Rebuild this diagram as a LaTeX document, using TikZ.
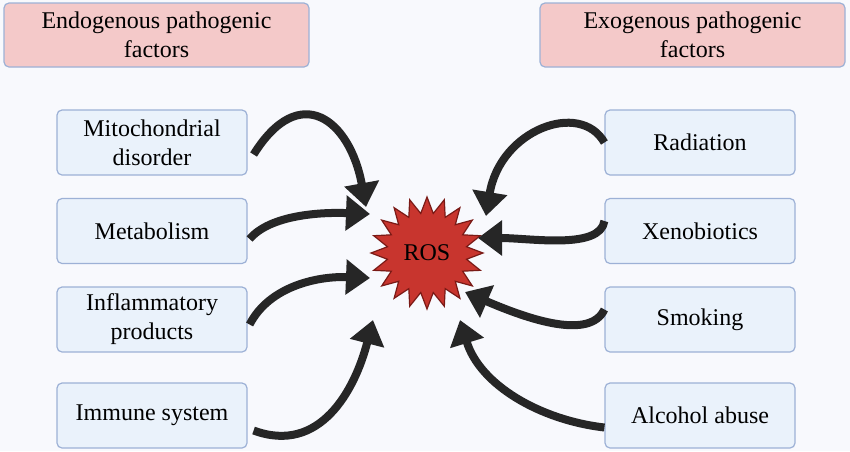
\documentclass[tikz,border=0pt]{standalone}
\usepackage{fontspec}
\setmainfont{Liberation Serif}
\usetikzlibrary{shapes.geometric,arrows.meta}
\definecolor{bg}{HTML}{F8F9FD}
\definecolor{hdr}{HTML}{F4C9C9}
\definecolor{bx}{HTML}{EAF2FB}
\definecolor{bd}{HTML}{9DB1D6}
\definecolor{rosred}{HTML}{C8352E}
\definecolor{rosbd}{HTML}{7A1A16}
\begin{document}
\begin{tikzpicture}[x=1pt,y=-1pt,
  box/.style={draw=bd,line width=1.2pt,fill=bx,rounded corners=5pt,minimum width=190pt,minimum height=65pt,align=center,font=\fontsize{24}{29}\selectfont},
  hbox/.style={box,fill=hdr,minimum width=305pt,minimum height=64pt},
  arr/.style={draw=black!85,line width=8pt,-{Triangle[length=24pt,width=34pt]}}]
\useasboundingbox[fill=bg] (0,0) rectangle (850,451);
\node[hbox] (en) at (156.5,35) {Endogenous pathogenic\\factors};
\node[hbox] (ex) at (692.5,35) {Exogenous pathogenic\\factors};
\node[box] (m1) at (152,142.5) {Mitochondrial\\disorder};
\node[box] (m2) at (152,231) {Metabolism};
\node[box] (m3) at (152,319.5) {Inflammatory\\products};
\node[box] (m4) at (152,415.5) {Immune system};
\node[box] (r1) at (700,142.5) {Radiation};
\node[box] (r2) at (700,231) {Xenobiotics};
\node[box] (r3) at (700,319.5) {Smoking};
\node[box] (r4) at (700,415.5) {Alcohol abuse};
\node[star,star points=20,star point ratio=1.4,minimum size=112pt,inner sep=0pt,fill=rosred,draw=rosbd,line width=1.2pt,font=\fontsize{24}{29}\selectfont] (ros) at (427,253) {ROS};
\coordinate (t1) at (366,207);
\coordinate (t2) at (370,214);
\coordinate (t3) at (370,278);
\coordinate (t4) at (373,320);
\coordinate (s1) at (486,216);
\coordinate (s2) at (478,238);
\coordinate (s3) at (465,292);
\coordinate (s4) at (460,320);
\draw[arr] (m1.east) ++(6,12) .. controls (300,80) and (350,120) .. (t1);
\draw[arr] (m2.east) ++(2,8) .. controls (270,215) and (320,212) .. (t2);
\draw[arr] (m3.east) ++(2,5) .. controls (270,285) and (320,276) .. (t3);
\draw[arr] (m4.east) ++(6,15) .. controls (320,455) and (355,390) .. (t4);
\draw[arr] (r1.west) ++(0,0) .. controls (580,100) and (500,130) .. (s1);
\draw[arr] (r2.west) ++(0,-10) .. controls (600,250) and (530,238) .. (s2);
\draw[arr] (r3.west) ++(0,-10) .. controls (590,340) and (530,320) .. (s3);
\draw[arr] (r4.west) ++(0,12) .. controls (540,420) and (480,385) .. (s4);
\end{tikzpicture}
\end{document}
